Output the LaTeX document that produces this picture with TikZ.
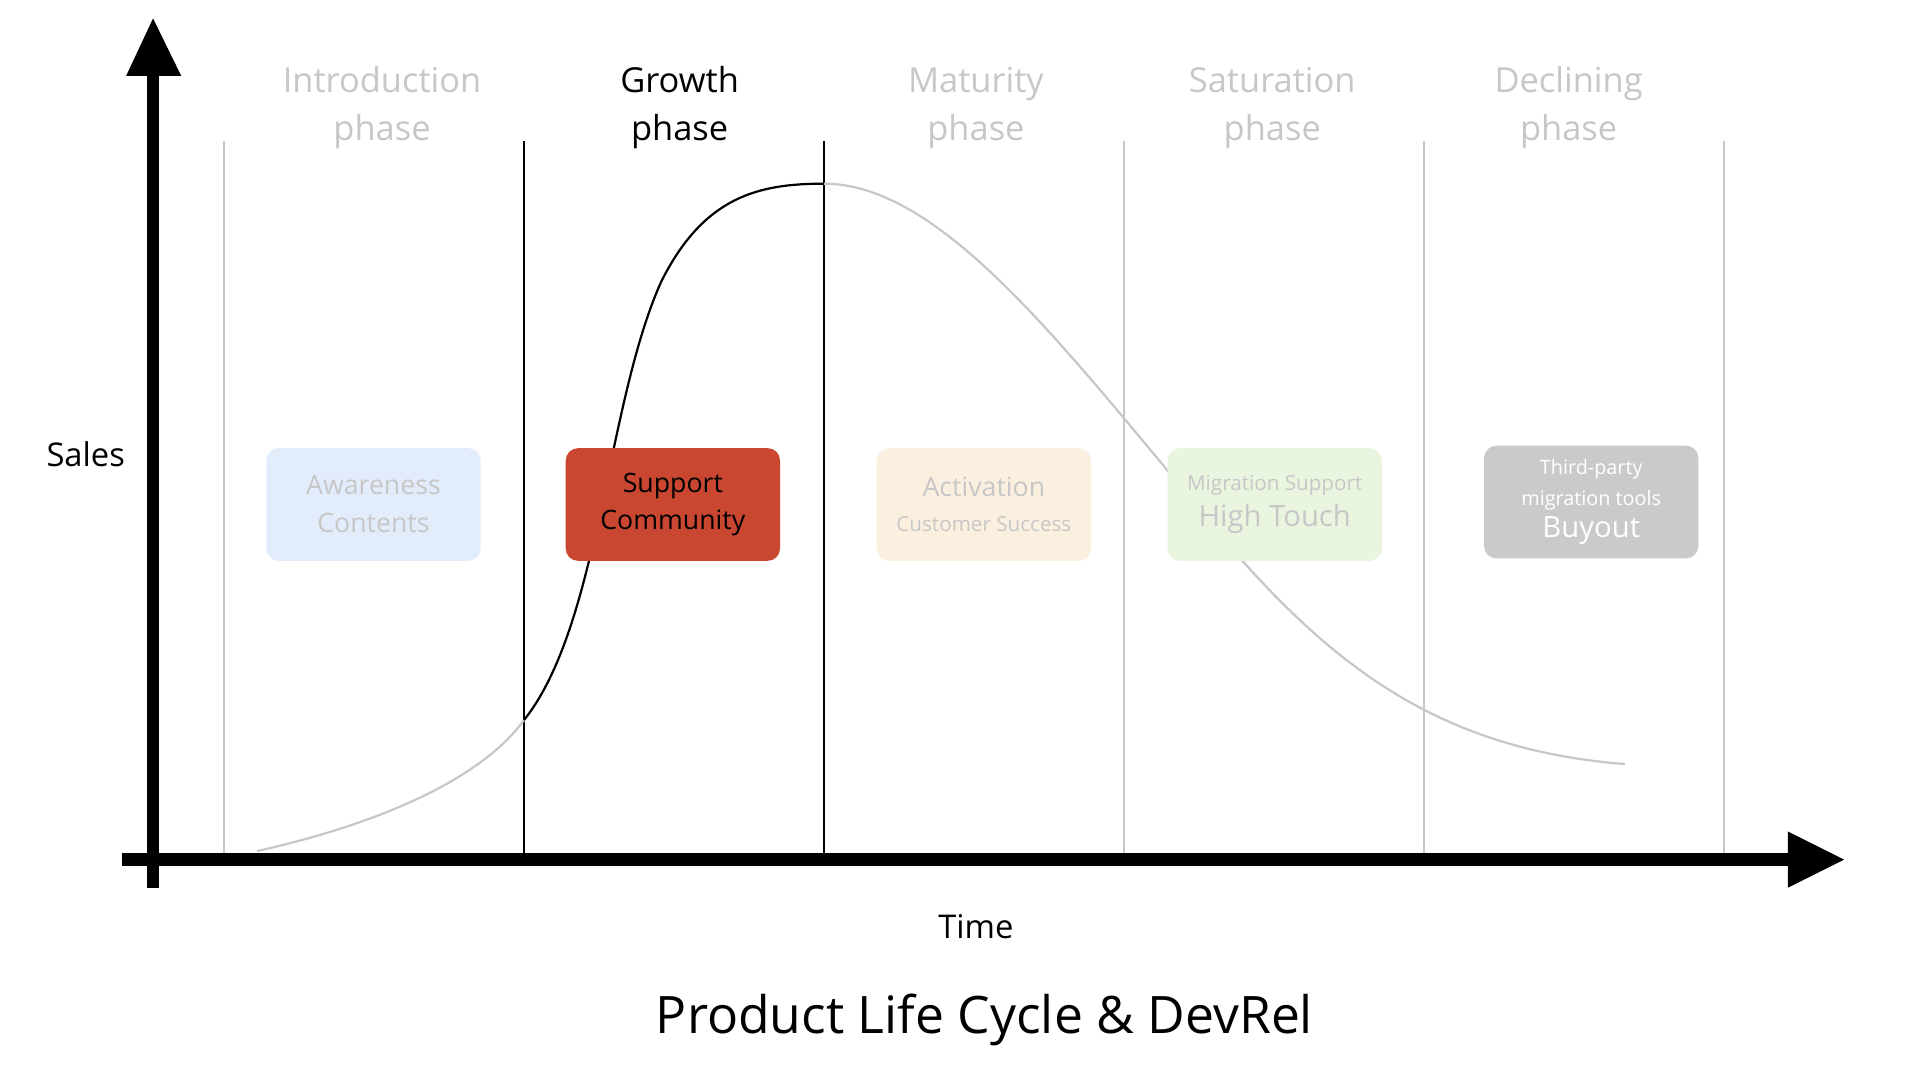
\documentclass[tikz,border=0pt]{standalone}
\usepackage{fontspec}
\setmainfont{Open Sans}
\begin{document}
\begin{tikzpicture}[x=0.025cm,y=-0.025cm,
  lg/.style={draw=black!22,line width=0.045cm},
  bl/.style={draw=black,line width=0.045cm},
  phase/.style={align=center,font=\fontsize{20}{28}\selectfont,text=black!22},
  box/.style={rounded corners=0.25cm,minimum width=175*0.025cm,minimum height=92*0.025cm,align=center,inner sep=0pt}]
\useasboundingbox (0,0) rectangle (1568,882);
% vertical lines
\foreach \x in {183,918,1163,1408} \draw[lg] (\x,115) -- (\x,697);
\foreach \x in {428,673} \draw[bl] (\x,115) -- (\x,697);
% curve
\draw[lg] (210,695) .. controls (300,675) and (390,640) .. (428,588);
\draw[bl] (428,588) .. controls (490,510) and (495,330) .. (540,230) .. controls (575,160) and (620,150) .. (673,150);
\draw[lg] (673,150) .. controls (760,150) and (850,260) .. (950,380) .. controls (1060,520) and (1150,610) .. (1327,624);
% axes
\draw[line width=0.25cm] (125,725) -- (125,55);
\fill (125,15) -- (148,62) -- (103,62) -- cycle;
\draw[line width=0.25cm] (100,702) -- (1465,702);
\fill (1506,702) -- (1460,679) -- (1460,725) -- cycle;
% phase labels
\node[phase] (p1) at (312,88) {Introduction\\phase};
\node[phase,text=black] (p2) at (555,88) {Growth\\phase};
\node[phase] (p3) at (797,88) {Maturity\\phase};
\node[phase] (p4) at (1039,88) {Saturation\\phase};
\node[phase] (p5) at (1281,88) {Declining\\phase};
% boxes
\node[box,fill={rgb,255:red,227;green,236;blue,250},text=black!22,font=\fontsize{15.5}{22}\selectfont] (b1) at (305,412) {Awareness\\Contents};
\node[box,fill={rgb,255:red,201;green,70;blue,48},text=black,font=\fontsize{15.5}{22}\selectfont] (b2) at (549.5,412) {Support\\Community};
\node[box,fill={rgb,255:red,251;green,240;blue,224},text=black!22,font=\fontsize{12}{20}\selectfont] (b3) at (803.5,412) {{\fontsize{15.5}{18}\selectfont Activation}\\{\fontsize{12}{18}\selectfont Customer Success}};
\node[box,fill={rgb,255:red,234;green,245;blue,224},text=black!22,font=\fontsize{12}{21}\selectfont] (b4) at (1041,412) {{\fontsize{12}{14}\selectfont Migration Support}\\{\fontsize{17}{20}\selectfont High Touch}};
\node[box,fill={rgb,255:red,202;green,202;blue,202},text=white,font=\fontsize{11.5}{18}\selectfont] (b5) at (1299.5,410) {Third-party\\migration tools\\[1pt]{\fontsize{17}{20}\selectfont Buyout}};
% labels
\node[font=\fontsize{19}{22}\selectfont] (sales) at (70,371) {Sales};
\node[font=\fontsize{19}{22}\selectfont] (time) at (797,757) {Time};
\node[font=\fontsize{30}{34}\selectfont] (title) at (804,833) {Product Life Cycle \& DevRel};
\end{tikzpicture}
\end{document}
